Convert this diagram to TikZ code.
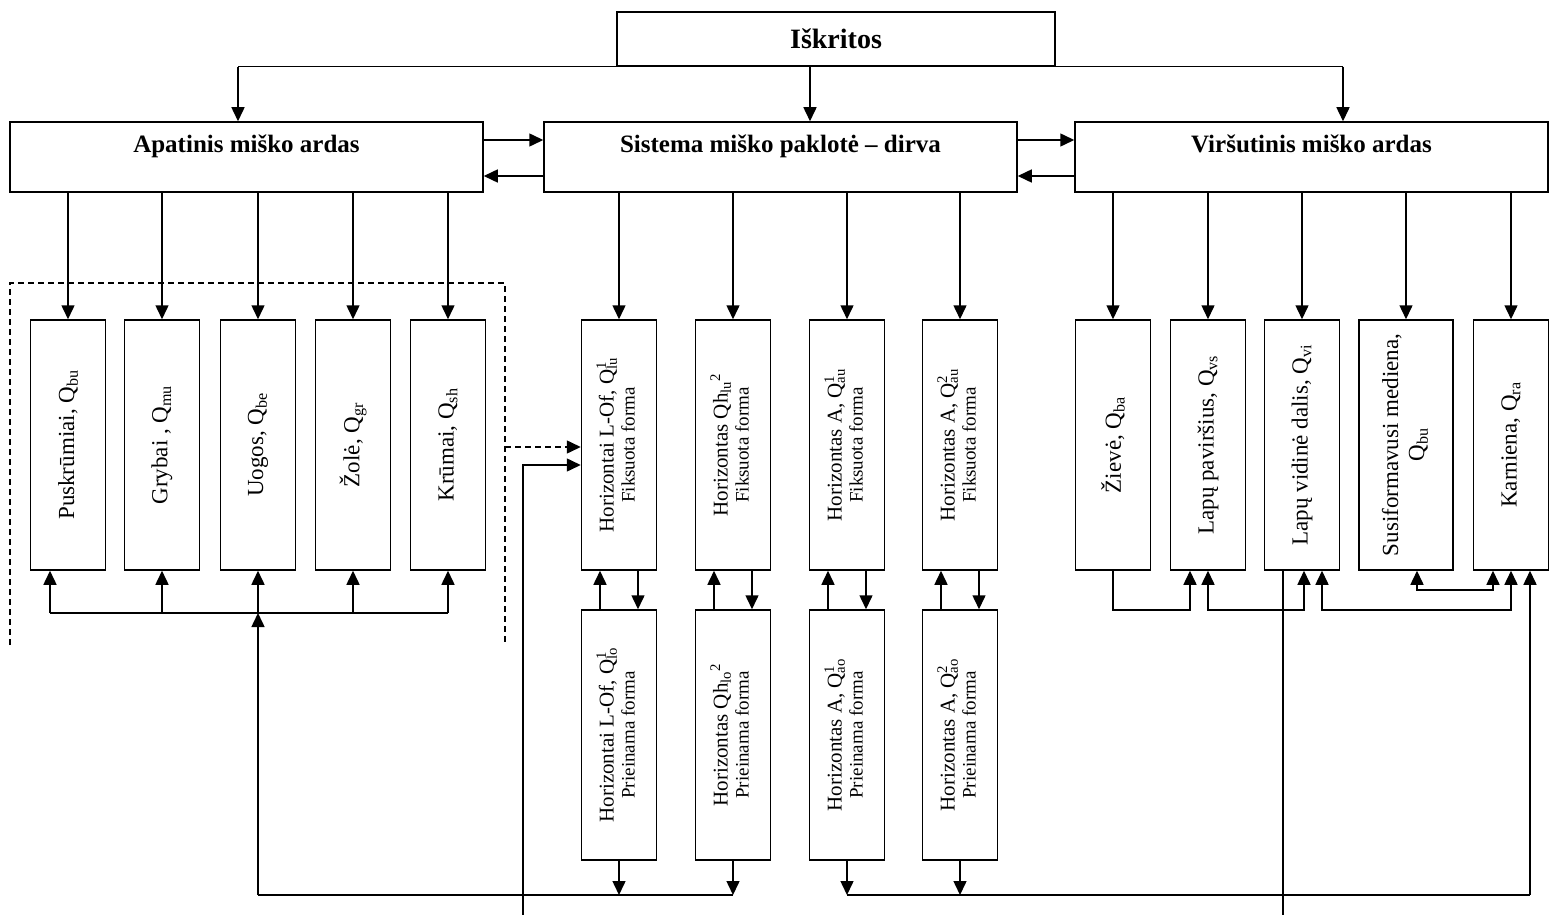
\documentclass[tikz,border=0pt]{standalone}
\usepackage{fontspec}
\usepackage{graphicx}
\setmainfont{Liberation Serif}
\usetikzlibrary{arrows.meta,calc}

% quantity symbols with sub/superscripts
\newcommand\qs[1]{Q\textsubscript{#1}}
\newcommand\qss[2]{Q\rlap{\textsuperscript{#2}}\textsubscript{#1}}
\newcommand\twoline[2]{\rotatebox{90}{\begin{tabular}{@{}c@{}}#1\\[-2pt]{\fontsize{19}{21}\selectfont #2}\end{tabular}}}

\tikzset{
  ln/.style={line width=1.5pt},
  box/.style={draw, ln, inner sep=0pt, fill=white},
  head/.style={box, minimum width=473pt, minimum height=70pt,
    font=\fontsize{25}{29}\selectfont\bfseries, text height=17pt, text depth=25pt},
  vbox/.style={box, minimum width=75pt, minimum height=250pt,
    font=\fontsize{23}{26}\selectfont},
  hbox/.style={box, minimum width=75pt, minimum height=250pt,
    font=\fontsize{21}{23}\selectfont},
  tip/.tip={Triangle[length=14pt,width=13pt]},
  arr/.style={ln, -tip},
  darr/.style={ln, tip-tip},
  dashline/.style={ln, dash pattern=on 6pt off 4pt},
}

\begin{document}
\begin{tikzpicture}[x=1pt,y=-1pt]
\useasboundingbox (0,0) rectangle (1553,915);
\fill[white] (0,0) rectangle (1553,915);

% top level
\node[box, minimum width=438pt, minimum height=54pt,
  font=\fontsize{28}{32}\selectfont\bfseries] (top) at (836,39) {Iškritos};

% three compartments
\node[head] (lft) at (246.5,157) {Apatinis miško ardas};
\node[head] (mid) at (780.5,157) {Sistema miško paklotė – dirva};
\node[head] (rgt) at (1311.5,157) {Viršutinis miško ardas};

% understorey components
\node[vbox] (l1) at (68,445)  {\rotatebox{90}{Puskrūmiai, \qs{bu}}};
\node[vbox] (l2) at (162,445) {\rotatebox{90}{Grybai , \qs{mu}}};
\node[vbox] (l3) at (258,445) {\rotatebox{90}{Uogos, \qs{be}}};
\node[vbox] (l4) at (353,445) {\rotatebox{90}{Žolė, \qs{gr}}};
\node[vbox] (l5) at (448,445) {\rotatebox{90}{Krūmai, \qs{sh}}};

% litter-soil horizons, fixed form
\node[hbox] (u1) at (619,445) {\twoline{Horizontai L-Of, \qss{lu}{1}}{Fiksuota forma}};
\node[hbox] (u2) at (733,445) {\twoline{Horizontas Qh\textsubscript{lu}\textsuperscript{2}}{Fiksuota forma}};
\node[hbox] (u3) at (847,445) {\twoline{Horizontas A, \qss{au}{1}}{Fiksuota forma}};
\node[hbox] (u4) at (960,445) {\twoline{Horizontas A, \qss{au}{2}}{Fiksuota forma}};

% litter-soil horizons, available form
\node[hbox] (d1) at (619,735) {\twoline{Horizontai L-Of, \qss{lo}{1}}{Prieinama forma}};
\node[hbox] (d2) at (733,735) {\twoline{Horizontas Qh\textsubscript{lo}\textsuperscript{2}}{Prieinama forma}};
\node[hbox] (d3) at (847,735) {\twoline{Horizontas A, \qss{ao}{1}}{Prieinama forma}};
\node[hbox] (d4) at (960,735) {\twoline{Horizontas A, \qss{ao}{2}}{Prieinama forma}};

% overstorey components
\node[vbox] (r1) at (1113,445) {\rotatebox{90}{Žievė, \qs{ba}}};
\node[vbox] (r2) at (1208,445) {\rotatebox{90}{Lapų paviršius, \qs{vs}}};
\node[vbox] (r3) at (1302,445) {\rotatebox{90}{Lapų vidinė dalis, \qs{vi}}};
\node[vbox, minimum width=94pt] (r4) at (1406,445)
  {\rotatebox{90}{\begin{tabular}{@{}c@{}}Susiformavusi mediena,\\ \qs{bu}\end{tabular}}};
\node[vbox] (r5) at (1511,445) {\rotatebox{90}{Karniena, \qs{ra}}};

% litterfall distribution
\draw[ln] (top.south -| 238,0) -- (top.south -| 1343,0);
\draw[arr] (top.south -| 238,0) -- (lft.north -| 238,0);
\draw[arr] (top.south -| 810,0) -- (mid.north -| 810,0);
\draw[arr] (top.south -| 1343,0) -- (rgt.north -| 1343,0);

% exchange between compartments
\draw[arr] ([yshift=17pt]lft.east) -- ([yshift=17pt]mid.west);
\draw[arr] ([yshift=-19pt]mid.west) -- ([yshift=-19pt]lft.east);
\draw[arr] ([yshift=17pt]mid.east) -- ([yshift=17pt]rgt.west);
\draw[arr] ([yshift=-19pt]rgt.west) -- ([yshift=-19pt]mid.east);

% branches to components
\foreach \n in {l1,l2,l3,l4,l5} \draw[arr] (lft.south -| \n.north) -- (\n.north);
\foreach \n in {u1,u2,u3,u4} \draw[arr] (mid.south -| \n.north) -- (\n.north);
\foreach \n in {r1,r2,r3,r4,r5} \draw[arr] (rgt.south -| \n.north) -- (\n.north);

% fixed <-> available forms
\foreach \a/\b in {u1/d1,u2/d2,u3/d3,u4/d4}{
  \draw[arr] ([xshift=-19pt]\b.north) -- ([xshift=-19pt]\a.south);
  \draw[arr] ([xshift=19pt]\a.south) -- ([xshift=19pt]\b.north);
}

% understorey return bus
\coordinate (lb) at (0,613);
\coordinate (bb) at (0,895);
\coordinate (fe) at (0,915);
\coordinate (l1b) at ([xshift=-18pt]l1.south);
\draw[ln] (l1b |- lb) -- (l5.south |- lb);
\draw[arr] (l1b |- lb) -- (l1b);
\foreach \n in {l2,l3,l4,l5} \draw[arr] (\n.south |- lb) -- (\n.south);
\draw[arr] (l3.south |- bb) -- (l3.south |- lb);
\draw[ln] (l3.south |- bb) -- (d2.south |- bb);
\foreach \n in {d1,d2,d3,d4} \draw[arr] (\n.south) -- (\n.south |- bb);

% overstorey return bus
\coordinate (r5x) at ([xshift=19pt]r5.south);
\draw[ln] (d3.south |- bb) -- (r5x |- bb);
\draw[arr] (r5x |- bb) -- (r5x);

% dashed understorey frame and its input
\coordinate (fa) at (10,645);
\coordinate (fb) at (10,283);
\coordinate (fc) at (505,283);
\coordinate (fd) at (505,645);
\draw[dashline] (fa) -- (fb) -- (fc) -- (fd);
\coordinate (fi) at (505,447);
\draw[dashline, -tip] (fi) -- (fi -| u1.west);
\coordinate (fs) at (523,915);
\draw[arr] (fs) |- ([yshift=-20pt]u1.west);

% links among overstorey components
\coordinate (rb1) at (0,610);
\coordinate (rb2) at (0,590);
\coordinate (r2a) at ([xshift=-18pt]r2.south);
\coordinate (r3a) at ([xshift=2pt]r3.south);
\coordinate (r3b) at ([xshift=20pt]r3.south);
\coordinate (r3o) at ([xshift=-19pt]r3.south);
\coordinate (r4a) at ([xshift=11pt]r4.south);
\coordinate (r5m) at ([xshift=-18pt]r5.south);
\draw[arr] (r1.south) -- (r1.south |- rb1) -| (r2a);
\draw[darr] (r2.south) -- (r2.south |- rb1) -| (r3a);
\draw[darr] (r3b) -- (r3b |- rb1) -| (r5.south);
\draw[darr] (r4a) -- (r4a |- rb2) -| (r5m);
\draw[ln] (r3o) -- (r3o |- fe);
\end{tikzpicture}
\end{document}
